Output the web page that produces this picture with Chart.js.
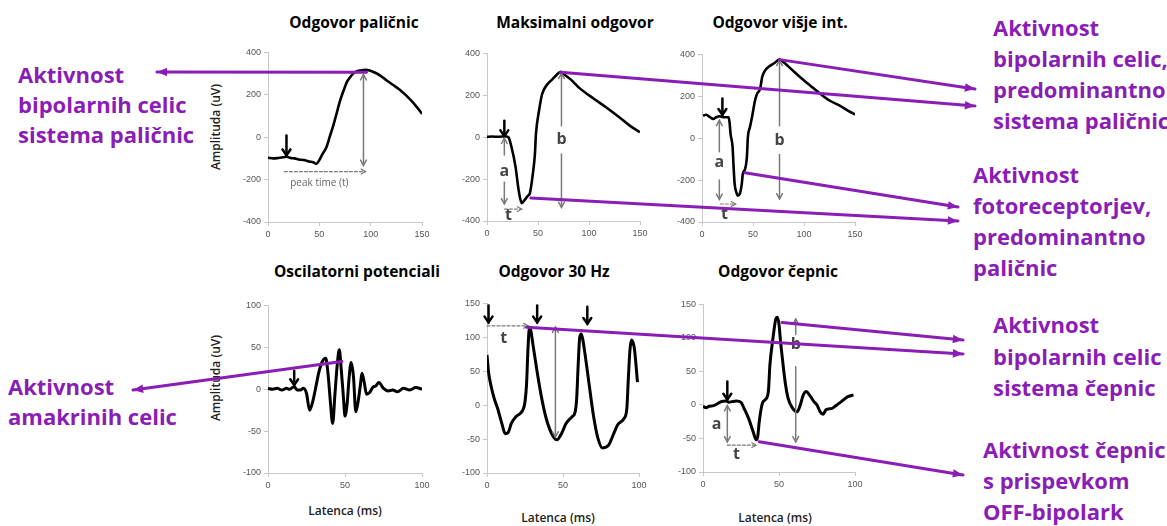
<!DOCTYPE html>
<html>
<head>
<meta charset="utf-8">
<script src="https://cdn.jsdelivr.net/npm/chart.js@4.4.1/dist/chart.umd.min.js"></script>
<style>
  html, body { margin: 0; padding: 0; background: #fff; }
  #page { position: relative; width: 1167px; height: 526px; overflow: hidden; font-family: "Open Sans", sans-serif; }
  #page canvas { position: absolute; }
  .ttl { position: absolute; transform: translate(-50%, -50%); font-weight: 700; font-size: 15.5px; line-height: 1; white-space: nowrap; color: #000; }
  .axt { position: absolute; transform: translate(-50%, -50%); font-weight: 600; font-size: 12px; line-height: 1; white-space: nowrap; color: #222; }
  .axt.rot { transform: translate(-50%, -50%) rotate(-90deg); }
  .note { position: absolute; color: #8a1db6; font-weight: 700; font-size: 22px; white-space: nowrap; }
</style>
</head>
<body>
<div id="page"></div>
<script>
// ---- data ----
const titles = ['Odgovor paličnic', 'Maksimalni odgovor', 'Odgovor višje int.',
                'Oscilatorni potenciali', 'Odgovor 30 Hz', 'Odgovor čepnic'];
const yTitle = 'Amplituda (uV)';
const xTitle = 'Latenca (ms)';

const xTicksLong = [0, 50, 100, 150];
const xTicksShort = [0, 50, 100];
const yTicksTop = [-400, -200, 0, 200, 400];
const yTicksOp = [-100, -50, 0, 50, 100];
const yTicksCone = [-100, -50, 0, 50, 100, 150];

// rod response
const rodX = [0,5,10,15,18,22,26,30,35,40,44,47,50,53,57,60,64,67,70,74,77,80,83,86,90,95,99,104,109,115,122,128,135,140,145,150];
const rodY = [-97,-100,-98,-95,-92,-98,-100,-105,-108,-115,-118,-126,-108,-80,-46,0,62,115,169,225,262,283,300,310,315,318,315,305,292,270,246,225,195,170,142,110];
// maximal response
const maxX = [0,5,10,15,19,21,24,28,31,34,37,40,42,45,47,48,51,54,59,64,68,72,75,82,91,104,117,130,140,150];
const maxY = [2,3,2,3,3,0,-47,-142,-252,-315,-299,-280,-268,-173,-79,16,126,205,252,276,296,312,302,276,233,186,142,94,55,24];
// higher intensity
const highX = [1,4,8,11,14,17,22,26,27,28,30,31,32,34,35,37,39,40,42,44,45,47,49,52,54,57,59,62,66,71,76,81,87,96,106,116,125,135,143,150];
const highY = [108,112,100,92,100,105,100,100,77,21,-43,-139,-218,-263,-274,-266,-218,-171,-150,-91,5,53,100,180,212,236,292,324,343,359,375,359,332,292,252,212,180,156,132,113];
// oscillatory potentials
const opX = [0,3,6,9,12,14,17,19,21,23,25,27,29,31,33,35,37.5,39,40.5,42,43.5,45,46.3,47.5,49,50,51.5,52.5,54,55.5,57,58.5,60,61,62.5,64,66,68,70,72,75,78,81,84,88,92,96,100];
const opY = [1,0,1,-1,1,0,3,-1,-1,1,-5,-25,-15,2,20,32,37,18,-15,-41,-5,30,47,25,-10,-32,-15,10,32,15,-27,-15,5,19,8,-6,-4,2,4,8,1,-2,-1,-3,1,-1,2,0];
// 30 Hz flicker
const flickX = [0,1,3,5,7,10,12,14,16,19,22,24,25,26,27,28,29,30,33,36,39,43,46,49,52,56,58,59,60,61,62,63,64,67,70,73,76,80,83,86,90,92,93,94,95,96,97,99];
const flickY = [74,49,25,8,-5,-29,-42,-40,-27,-17,-12,-5,5,30,85,115,108,93,49,10,-20,-44,-51,-42,-27,-17,-10,10,60,100,105,97,83,34,-15,-49,-63,-59,-44,-29,-20,-5,40,80,96,93,83,34];
// cone response
const coneX = [0,2,4,7,9,12,15,17,19,22,25,27,30,33,35,36,37,39,41,43,44,46,48,49,50,51,52,54,56,59,62,64,66,68,70,73,75,77,79,81,85,88,91,95,99];
const coneY = [-2,-4,-2,-1,1,5,6,4,5,6,4,-5,-20,-40,-52,-47,-25,2,8,20,59,99,129,131,120,95,74,35,10,-5,-10,0,15,20,15,5,0,-10,-14,-7,-5,0,5,12,15];

// annotation marks in data units
const rodMarks = [
  { k: 'stim', x: 18, y1: 8, y2: -85 },
  { k: 'gray', x1: 93, y1: -133, x2: 93, y2: 295, both: true },
  { k: 'dash', x1: 16, y1: -162, x2: 95, y2: -162 },
  { k: 'cap', x: 50, y: -215, s: 'peak time (t)' }
];
const maxMarks = [
  { k: 'stim', x: 17, y1: 78, y2: 5 },
  { k: 'gray', x1: 17, y1: -85, x2: 17, y2: -5 },
  { k: 'lbl', x: 17, y: -162, s: 'a' },
  { k: 'gray', x1: 17, y1: -215, x2: 17, y2: -318 },
  { k: 'dash', x1: 17, y1: -343, x2: 34, y2: -343 },
  { k: 'lbl', x: 21, y: -372, s: 't' },
  { k: 'gray', x1: 73, y1: 55, x2: 73, y2: 305 },
  { k: 'lbl', x: 73, y: -12, s: 'b' },
  { k: 'gray', x1: 73, y1: -80, x2: 73, y2: -335 }
];
const highMarks = [
  { k: 'stim', x: 20, y1: 190, y2: 112 },
  { k: 'gray', x1: 17, y1: -65, x2: 17, y2: 85 },
  { k: 'lbl', x: 17, y: -118, s: 'a' },
  { k: 'gray', x1: 17, y1: -200, x2: 17, y2: -292 },
  { k: 'dash', x1: 18, y1: -314, x2: 33, y2: -314 },
  { k: 'lbl', x: 22, y: -362, s: 't' },
  { k: 'gray', x1: 76, y1: 60, x2: 76, y2: 372 },
  { k: 'lbl', x: 76, y: -10, s: 'b' },
  { k: 'gray', x1: 76, y1: -78, x2: 76, y2: -290 }
];
const opMarks = [
  { k: 'stim', x: 17, y1: 22, y2: 5 }
];
const flickMarks = [
  { k: 'stim', x: 1, y1: 147, y2: 122 },
  { k: 'stim', x: 33, y1: 147, y2: 122 },
  { k: 'stim', x: 66, y1: 145, y2: 120 },
  { k: 'dash', x1: 0, y1: 117, x2: 27, y2: 117 },
  { k: 'lbl', x: 11, y: 99, s: 't' },
  { k: 'gray', x1: 45, y1: -47, x2: 45, y2: 115, both: true }
];
const coneMarks = [
  { k: 'stim', x: 16, y1: 35, y2: 8 },
  { k: 'gray', x1: 16, y1: -55, x2: 16, y2: -1, both: true },
  { k: 'lbl', x: 9, y: -29, s: 'a' },
  { k: 'dash', x1: 16, y1: -60, x2: 35, y2: -60 },
  { k: 'lbl', x: 22, y: -74, s: 't' },
  { k: 'gray', x1: 61, y1: 105, x2: 61, y2: 128 },
  { k: 'lbl', x: 61, y: 90, s: 'b' },
  { k: 'gray', x1: 61, y1: 57, x2: 61, y2: -55 }
];

// purple call-outs: start at a data point of a panel, end beside the text
const links = [
  { p: 0, x: 96, y: 306, to: [157, 72] },
  { p: 1, x: 72, y: 310, to: [975, 106] },
  { p: 2, x: 76, y: 375, to: [975, 89] },
  { p: 1, x: 43, y: -290, to: [958, 221] },
  { p: 2, x: 42, y: -165, to: [958, 207] },
  { p: 3, x: 48, y: 33, to: [133, 390] },
  { p: 4, x: 26, y: 115, to: [963, 354] },
  { p: 5, x: 52, y: 123, to: [963, 340] },
  { p: 5, x: 37, y: -55, to: [963, 475] }
];

const notes = [
  { left: 18, top: 59, lh: 30, lines: ['Aktivnost', 'bipolarnih celic', 'sistema paličnic'] },
  { left: 8, top: 371, lh: 30, lines: ['Aktivnost', 'amakrinih celic'] },
  { left: 993, top: 12, lh: 31, lines: ['Aktivnost', 'bipolarnih celic,', 'predominantno', 'sistema paličnic'] },
  { left: 973, top: 159, lh: 31, lines: ['Aktivnost', 'fotoreceptorjev,', 'predominantno', 'paličnic'] },
  { left: 993, top: 309, lh: 31.5, lines: ['Aktivnost', 'bipolarnih celic', 'sistema čepnic'] },
  { left: 983, top: 434, lh: 31, lines: ['Aktivnost čepnic', 's prispevkom', 'OFF-bipolark'] }
];

// ---- layout ----
const PURPLE = '#8a1db6';
const panels = [
  { box: [268, 422, 52, 222], xt: xTicksLong, yt: yTicksTop, xs: rodX, ys: rodY, marks: rodMarks, lw: 2.6, title: [354, 23], yAx: [216, 127] },
  { box: [487, 640, 53, 221], xt: xTicksLong, yt: yTicksTop, xs: maxX, ys: maxY, marks: maxMarks, lw: 2.6, title: [575, 23] },
  { box: [702, 855, 54, 222], xt: xTicksLong, yt: yTicksTop, xs: highX, ys: highY, marks: highMarks, lw: 2.6, title: [780, 23] },
  { box: [268, 422, 305, 473], xt: xTicksShort, yt: yTicksOp, xs: opX, ys: opY, marks: opMarks, lw: 3, title: [357, 272], yAx: [216, 378], xAx: [345, 511] },
  { box: [487, 639, 303, 473], xt: xTicksShort, yt: yTicksCone, xs: flickX, ys: flickY, marks: flickMarks, lw: 3, title: [554, 272], xAx: [558, 518] },
  { box: [703, 855, 304, 472], xt: xTicksShort, yt: yTicksCone, xs: coneX, ys: coneY, marks: coneMarks, lw: 3, title: [778, 272], xAx: [775, 518] }
];

const page = document.getElementById('page');
const marksFor = new Map();

function arrow(ctx, x1, y1, x2, y2, o) {
  const a = Math.atan2(y2 - y1, x2 - x1);
  ctx.save();
  ctx.strokeStyle = o.color;
  ctx.fillStyle = o.color;
  ctx.lineWidth = o.width;
  ctx.lineCap = 'round';
  if (o.dash) ctx.setLineDash(o.dash);
  ctx.beginPath();
  ctx.moveTo(x1, y1);
  ctx.lineTo(x2, y2);
  ctx.stroke();
  ctx.setLineDash([]);
  const heads = o.both ? [[x2, y2, a], [x1, y1, a + Math.PI]] : [[x2, y2, a]];
  const sp = o.spread || 0.5;
  for (const [hx, hy, ang] of heads) {
    ctx.beginPath();
    ctx.moveTo(hx - o.head * Math.cos(ang - sp), hy - o.head * Math.sin(ang - sp));
    ctx.lineTo(hx, hy);
    ctx.lineTo(hx - o.head * Math.cos(ang + sp), hy - o.head * Math.sin(ang + sp));
    if (o.fill) { ctx.closePath(); ctx.fill(); } else ctx.stroke();
  }
  ctx.restore();
}

const markPlugin = {
  id: 'ergMarks',
  afterDatasetsDraw(chart) {
    const marks = marksFor.get(chart.canvas) || [];
    const ctx = chart.ctx;
    const px = v => chart.scales.x.getPixelForValue(v);
    const py = v => chart.scales.y.getPixelForValue(v);
    for (const m of marks) {
      if (m.k === 'stim') {
        arrow(ctx, px(m.x), py(m.y1), px(m.x), py(m.y2), { color: '#000', width: 2.5, head: 7, spread: 0.6 });
      } else if (m.k === 'gray') {
        arrow(ctx, px(m.x1), py(m.y1), px(m.x2), py(m.y2), { color: '#7a7a7a', width: 1.5, head: 6, both: m.both });
      } else if (m.k === 'dash') {
        arrow(ctx, px(m.x1), py(m.y1), px(m.x2), py(m.y2), { color: '#7a7a7a', width: 1.2, head: 5, dash: [3, 2] });
      } else {
        ctx.save();
        ctx.fillStyle = m.k === 'lbl' ? '#444' : '#666';
        ctx.font = m.k === 'lbl' ? 'bold 16px "Open Sans"' : '10px "Open Sans"';
        ctx.textAlign = 'center';
        ctx.textBaseline = 'middle';
        ctx.fillText(m.s, px(m.x), py(m.y));
        ctx.restore();
      }
    }
  }
};

const PAD_L = 40, PAD_T = 8, PAD_R = 12, PAD_B = 25;
function makePanel(p) {
  const [l, r, t, b] = p.box;
  const cv = document.createElement('canvas');
  cv.width = r - l + PAD_L + PAD_R;
  cv.height = b - t + PAD_T + PAD_B;
  cv.style.left = (l - PAD_L) + 'px';
  cv.style.top = (t - PAD_T) + 'px';
  page.appendChild(cv);
  marksFor.set(cv, p.marks);
  const tickFont = { family: '"Liberation Sans", Arial, sans-serif', size: 9 };
  const axisCommon = {
    type: 'linear',
    grid: { drawOnChartArea: false, drawTicks: true, tickLength: 4, color: '#c8c8c8' },
    border: { display: true, color: '#c8c8c8', width: 1 }
  };
  return new Chart(cv, {
    type: 'line',
    data: {
      datasets: [{
        data: p.xs.map((x, i) => ({ x, y: p.ys[i] })),
        borderColor: '#000',
        borderWidth: p.lw,
        pointRadius: 0,
        cubicInterpolationMode: 'monotone',
        fill: false
      }]
    },
    options: {
      responsive: false,
      animation: false,
      devicePixelRatio: 1,
      layout: { padding: { left: 0, top: PAD_T, right: PAD_R, bottom: 0 } },
      plugins: { legend: { display: false }, tooltip: { enabled: false }, title: { display: false } },
      scales: {
        x: Object.assign({}, axisCommon, {
          min: p.xt[0], max: p.xt[p.xt.length - 1],
          ticks: { font: tickFont, color: '#555', padding: 3, maxRotation: 0, autoSkip: false },
          afterBuildTicks: s => { s.ticks = p.xt.map(v => ({ value: v })); },
          afterFit: s => { s.height = PAD_B; }
        }),
        y: Object.assign({}, axisCommon, {
          min: p.yt[0], max: p.yt[p.yt.length - 1],
          ticks: { font: tickFont, color: '#555', padding: 3, autoSkip: false },
          afterBuildTicks: s => { s.ticks = p.yt.map(v => ({ value: v })); },
          afterFit: s => { s.width = PAD_L; }
        })
      }
    },
    plugins: [markPlugin]
  });
}

function addText(cls, text, x, y) {
  const d = document.createElement('div');
  d.className = cls;
  d.textContent = text;
  d.style.left = x + 'px';
  d.style.top = y + 'px';
  page.appendChild(d);
}

const charts = panels.map(makePanel);

panels.forEach((p, i) => {
  addText('ttl', titles[i], p.title[0], p.title[1]);
  if (p.yAx) addText('axt rot', yTitle, p.yAx[0], p.yAx[1]);
  if (p.xAx) addText('axt', xTitle, p.xAx[0], p.xAx[1]);
});

notes.forEach(n => {
  const d = document.createElement('div');
  d.className = 'note';
  d.style.left = n.left + 'px';
  d.style.top = n.top + 'px';
  d.style.lineHeight = n.lh + 'px';
  d.innerHTML = n.lines.join('<br>');
  page.appendChild(d);
});

// purple call-out arrows on top
const ov = document.createElement('canvas');
ov.width = 1167; ov.height = 526;
ov.style.left = '0px'; ov.style.top = '0px'; ov.style.zIndex = 5; ov.style.pointerEvents = 'none';
page.appendChild(ov);
const octx = ov.getContext('2d');
links.forEach(lk => {
  const c = charts[lk.p];
  const [l, , t] = panels[lk.p].box;
  const sx = (l - PAD_L) + c.scales.x.getPixelForValue(lk.x);
  const sy = (t - PAD_T) + c.scales.y.getPixelForValue(lk.y);
  arrow(octx, sx, sy, lk.to[0], lk.to[1], { color: PURPLE, width: 3, head: 11, spread: 0.4, fill: true });
});
</script>
</body>
</html>
